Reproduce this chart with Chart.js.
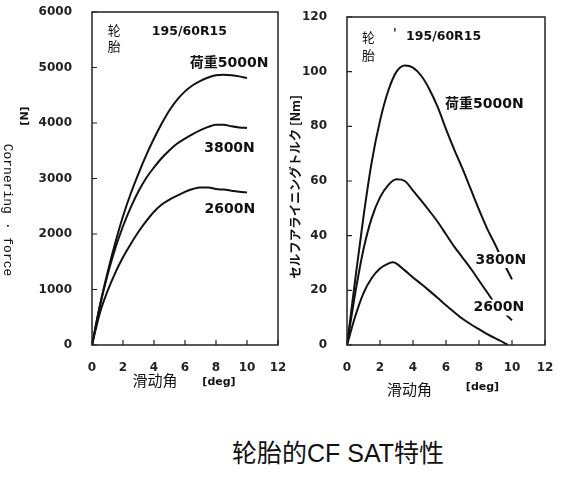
<!DOCTYPE html>
<html>
<head>
<meta charset="utf-8">
<script src="https://cdn.jsdelivr.net/npm/chart.js@4.4.0/dist/chart.umd.min.js"></script>
<style>
  body { margin: 0; background: #fff; width: 562px; height: 486px; position: relative; overflow: hidden; }
  #cf { position: absolute; left: 0; top: 0; }
  #sat { position: absolute; left: 285px; top: 0; }
  #caption {
    position: absolute; left: 232px; top: 441px; white-space: nowrap;
    font: 25px "Liberation Sans", "Noto Sans CJK SC", sans-serif; line-height: 1; color: #111;
  }
</style>
</head>
<body>
<canvas id="cf" width="285" height="400"></canvas>
<canvas id="sat" width="277" height="400"></canvas>
<div id="caption">轮胎的CF SAT特性</div>
<script>
// slip angle [deg]
var slipAngles = [0, 0.5, 1, 1.5, 2, 2.5, 3, 3.5, 4, 4.5, 5, 5.5, 6, 6.5, 7, 7.5, 8, 8.5, 9, 9.5, 10];
var slipAngles2600 = [0, 0.5, 1, 1.5, 2, 2.5, 2.8, 3, 3.5, 4, 4.5, 5, 5.5, 6, 6.5, 7, 7.5, 8, 8.5, 9, 9.5, 9.75];

// cornering force [N]
var cf5000 = [0, 700, 1300, 1840, 2320, 2730, 3090, 3420, 3720, 3990, 4230, 4420, 4570, 4680, 4760, 4820, 4860, 4870, 4860, 4840, 4810];
var cf3800 = [0, 690, 1260, 1740, 2140, 2480, 2770, 3010, 3200, 3370, 3510, 3630, 3720, 3800, 3870, 3930, 3970, 3970, 3940, 3920, 3910];
var cf2600 = [0, 570, 970, 1300, 1580, 1820, 2040, 2230, 2400, 2530, 2620, 2690, 2760, 2810, 2840, 2840, 2810, 2800, 2780, 2760, 2750];

// self aligning torque [Nm]
var sat5000 = [0, 24, 47, 67, 82, 93, 100, 102.3, 101.5, 98.5, 93.5, 87, 79, 71.5, 64.5, 57, 49.5, 42.5, 36.5, 30, 24];
var sat3800 = [0, 19, 35, 46.5, 54, 58.5, 60.6, 60, 56.5, 52.8, 49, 45, 40.5, 36, 32, 28, 23.6, 19.2, 15, 12, 9];
var sat2600 = [0, 10.5, 19, 24.5, 28, 29.8, 30.3, 29.8, 27.3, 24.7, 22.3, 19.8, 17.2, 14.5, 12, 9.6, 7.6, 5.8, 4, 2.4, 0.9, 0];

var xTicks = [0, 2, 4, 6, 8, 10, 12];
var cfTicks = [0, 1000, 2000, 3000, 4000, 5000, 6000];
var satTicks = [0, 20, 40, 60, 80, 100, 120];

function pts(xs, ys) {
  return xs.map(function (x, i) { return { x: x, y: ys[i] }; });
}

function curve(xs, ys) {
  return {
    data: pts(xs, ys),
    borderColor: '#111',
    borderWidth: 2,
    pointRadius: 0,
    fill: false,
    cubicInterpolationMode: 'monotone'
  };
}

var tickFont = { family: 'DejaVu Sans', size: 12, weight: 'bold' };

// frame, inward ticks, notes and axis titles
var framePlugin = {
  id: 'frame',
  afterDraw: function (chart, args, opts) {
    var ctx = chart.ctx, a = chart.chartArea, sx = chart.scales.x, sy = chart.scales.y;
    ctx.save();
    ctx.strokeStyle = '#222';
    ctx.lineWidth = 1.5;
    ctx.strokeRect(a.left, a.top, a.right - a.left, a.bottom - a.top);
    ctx.lineWidth = 1.2;
    ctx.beginPath();
    sx.ticks.forEach(function (t) {
      var p = sx.getPixelForValue(t.value);
      ctx.moveTo(p, a.bottom); ctx.lineTo(p, a.bottom - 5);
    });
    sy.ticks.forEach(function (t) {
      var p = sy.getPixelForValue(t.value);
      ctx.moveTo(a.left, p); ctx.lineTo(a.left + 5, p);
    });
    ctx.stroke();

    ctx.fillStyle = '#111';
    ctx.textBaseline = 'middle';
    opts.notes.forEach(function (n) {
      ctx.font = n.font;
      ctx.textAlign = n.align || 'center';
      var x = sx.getPixelForValue(n.x), y = sy.getPixelForValue(n.y);
      if (n.mask) {
        var w = ctx.measureText(n.text).width;
        var left = n.align === 'left' ? x : x - w / 2;
        ctx.fillStyle = '#fff';
        ctx.fillRect(left - 2, y - 8, w + 4, 16);
        ctx.fillStyle = '#111';
      }
      ctx.fillText(n.text, x, y);
    });

    opts.titles.forEach(function (t) {
      ctx.save();
      ctx.translate(t.x, t.y);
      ctx.rotate(t.rot || 0);
      ctx.font = t.font;
      ctx.textAlign = 'center';
      ctx.fillText(t.text, 0, 0);
      ctx.restore();
    });
    ctx.restore();
  }
};

function axes(yMax, yTicks, yWidth) {
  return {
    x: {
      type: 'linear', min: 0, max: 12,
      grid: { display: false }, border: { display: false },
      afterBuildTicks: function (s) { s.ticks = xTicks.map(function (v) { return { value: v }; }); },
      afterFit: function (s) { s.height = 55; s.paddingLeft = 0; s.paddingRight = 0; },
      ticks: { color: '#222', font: tickFont, padding: 8, maxRotation: 0, callback: function (v) { return String(v); } }
    },
    y: {
      type: 'linear', min: 0, max: yMax,
      grid: { display: false }, border: { display: false },
      afterBuildTicks: function (s) { s.ticks = yTicks.map(function (v) { return { value: v }; }); },
      afterFit: function (s) { s.width = yWidth; s.paddingTop = 0; s.paddingBottom = 0; },
      ticks: { color: '#222', font: tickFont, padding: 12, callback: function (v) { return String(v); } }
    }
  };
}

var cjk = '"Noto Sans CJK SC"';
var boldLabel = 'bold 14px "DejaVu Sans", ' + cjk;

new Chart(document.getElementById('cf'), {
  type: 'line',
  data: {
    datasets: [curve(slipAngles, cf5000), curve(slipAngles, cf3800), curve(slipAngles, cf2600)]
  },
  options: {
    responsive: false,
    animation: false,
    layout: { padding: { top: 12, right: 7, left: 0, bottom: 0 } },
    scales: axes(6000, cfTicks, 92),
    plugins: {
      legend: { display: false },
      tooltip: { enabled: false },
      frame: {
        notes: [
          { text: '轮', x: 1.44, y: 5676, font: '13px ' + cjk },
          { text: '胎', x: 1.44, y: 5380, font: '13px ' + cjk },
          { text: '195/60R15', x: 3.86, y: 5640, align: 'left', font: 'bold 12.5px "DejaVu Sans"' },
          { text: '荷重5000N', x: 8.84, y: 5083, font: boldLabel },
          { text: '3800N', x: 8.87, y: 3545, font: boldLabel },
          { text: '2600N', x: 8.9, y: 2448, font: boldLabel }
        ],
        titles: [
          { text: '滑动角', x: 155, y: 380, font: '15px ' + cjk },
          { text: '[deg]', x: 219, y: 382, font: 'bold 11px "DejaVu Sans"' },
          { text: '[N]', x: 25, y: 116, rot: -Math.PI / 2, font: 'bold 11px "DejaVu Sans"' },
          { text: 'Cornering · force', x: 7, y: 210, rot: Math.PI / 2, font: '13px "Liberation Mono"' }
        ]
      }
    }
  },
  plugins: [framePlugin]
});

new Chart(document.getElementById('sat'), {
  type: 'line',
  data: {
    datasets: [curve(slipAngles, sat5000), curve(slipAngles, sat3800), curve(slipAngles2600, sat2600)]
  },
  options: {
    responsive: false,
    animation: false,
    layout: { padding: { top: 17, right: 17, left: 0, bottom: 0 } },
    scales: axes(120, satTicks, 62),
    plugins: {
      legend: { display: false },
      tooltip: { enabled: false },
      frame: {
        notes: [
          { text: '轮', x: 1.3, y: 112.8, font: '13px ' + cjk },
          { text: '胎', x: 1.3, y: 106.2, font: '13px ' + cjk },
          { text: "'", x: 2.9, y: 114, font: 'bold 12px "DejaVu Sans"' },
          { text: '195/60R15', x: 3.58, y: 112.8, align: 'left', font: 'bold 12.5px "DejaVu Sans"' },
          { text: '荷重5000N', x: 8.33, y: 87.9, font: boldLabel },
          { text: '3800N', x: 9.33, y: 31.1, font: boldLabel, mask: true },
          { text: '2600N', x: 9.21, y: 13.7, font: boldLabel, mask: true }
        ],
        titles: [
          { text: '滑动角', x: 124.5, y: 389, font: '15px ' + cjk },
          { text: '[deg]', x: 197.5, y: 387, font: 'bold 11px "DejaVu Sans"' },
          { text: 'セルフアライニングトルク [Nm]', x: 10, y: 187, rot: -Math.PI / 2, font: 'bold 12.5px "Noto Sans CJK JP"' }
        ]
      }
    }
  },
  plugins: [framePlugin]
});
</script>
</body>
</html>
